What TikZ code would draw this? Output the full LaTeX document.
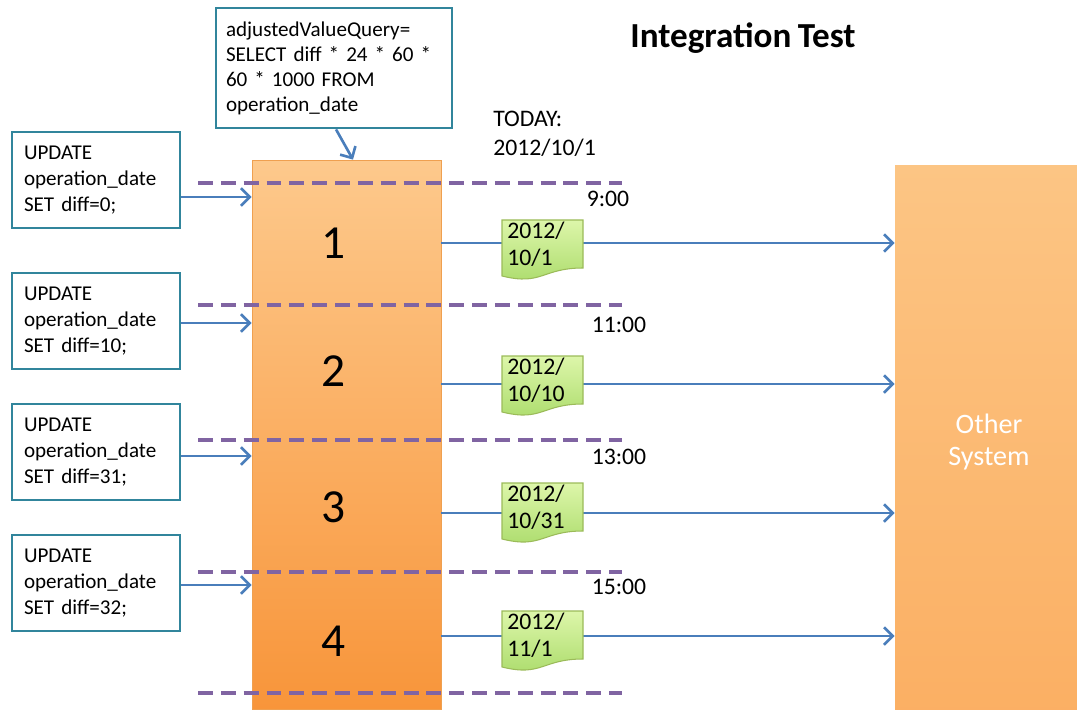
\documentclass[tikz,border=0pt]{standalone}
\usepackage{fontspec}
\setmainfont{Carlito}[WordSpace={0.8,0.5,0.3}]
\usetikzlibrary{arrows.meta, calc}

\definecolor{boxteal}{HTML}{31859C}
\definecolor{arrowblue}{HTML}{4A7EBB}
\definecolor{dashpurple}{HTML}{8064A2}
\definecolor{noteedge}{HTML}{9BBB59}
\definecolor{notetop}{HTML}{DDF6AA}
\definecolor{notebot}{HTML}{AADB6A}
\definecolor{coltop}{HTML}{FDC98C}
\definecolor{colbot}{HTML}{F8953A}
\definecolor{coledge}{HTML}{EFA050}
\definecolor{othtop}{HTML}{FCC584}
\definecolor{othbot}{HTML}{FBAF63}

\begin{document}
\begin{tikzpicture}[
    x=0.02cm, y=-0.02cm,
    sqlbox/.style={rectangle, draw=boxteal, line width=1.6pt, fill=white, text width=2.88cm, inner xsep=0.24cm, inner ysep=0pt, minimum height=1.92cm, align=left, font=\fontsize{12}{14.7}\selectfont},
    arrow/.style={-{Straight Barb[length=5pt,width=10pt]}, draw=arrowblue, line width=1.5pt},
    sepline/.style={draw=dashpurple, line width=2.1pt, dash pattern=on 8.5pt off 4.5pt},
    notebox/.style={draw=noteedge, line width=0.6pt, top color=notetop, bottom color=notebot},
    notetext/.style={anchor=west, align=left, inner sep=0pt, font=\fontsize{13.5}{15.3}\selectfont},
    timelbl/.style={inner sep=0pt, font=\fontsize{13.5}{16}\selectfont},
    numlbl/.style={inner sep=0pt, font=\fontsize{27}{30}\selectfont}
  ]
    \useasboundingbox (0,0) rectangle (1077,709);

    % Main column and other system
    \node[rectangle, draw=coledge, line width=0.5pt, top color=coltop, bottom color=colbot, minimum width=3.78cm, minimum height=10.98cm, inner sep=0pt] (col) at (346.5,434.5) {};
    \node[rectangle, top color=othtop, bottom color=othbot, minimum width=3.76cm, minimum height=11.08cm, text=white, align=center, font=\fontsize{16}{18.7}\selectfont] (other) at (989,442) {Other\\System};

    % Numbers
    \node[numlbl] (n1) at (334,243) {1};
    \node[numlbl] (n2) at (334,371) {2};
    \node[numlbl] (n3) at (334,507) {3};
    \node[numlbl] (n4) at (334,641) {4};

    % Outgoing arrows
    \foreach \i/\y in {1/243, 2/384, 3/513, 4/636} {
      \coordinate (r\i) at (0,\y);
      \draw[arrow] (col.east |- r\i) -- (other.west |- r\i);
    }

    % Date notes
    \foreach \i/\top/\d in {1/220/{2012/\\10/1}, 2/356/{2012/\\10/10}, 3/483/{2012/\\10/31}, 4/611/{2012/\\11/1}} {
      \begin{scope}[shift={(502,\top)}]
        \path[notebox] (0,0) -- (81,0) -- (81,48) .. controls (40,48) and (40,66) .. (0,56) -- cycle;
        \node[notetext] (d\i) at (5,24) {\d};
      \end{scope}
    }

    % Time lines
    \foreach \y in {183, 305, 440, 572, 693}
      \draw[sepline] (198,\y) -- (622,\y);

    % Times
    \node[timelbl] (t1) at (608,199) {9:00};
    \node[timelbl] (t2) at (619,325) {11:00};
    \node[timelbl] (t3) at (619,457) {13:00};
    \node[timelbl] (t4) at (619,587) {15:00};
    \node[anchor=west, inner sep=0pt, align=left, font=\fontsize{13.5}{16.4}\selectfont] (today) at (493,134) {TODAY:\\2012/10/1};

    % Update statements
    \node[sqlbox] (upd1) at (96,180) {UPDATE\\operation\_date\\SET diff=0;};
    \node[sqlbox] (upd2) at (96,321) {UPDATE\\operation\_date\\SET diff=10;};
    \node[sqlbox] (upd3) at (96,452) {UPDATE\\operation\_date\\SET diff=31;};
    \node[sqlbox] (upd4) at (96,583) {UPDATE\\operation\_date\\SET diff=32;};

    \foreach \i/\y in {1/197, 2/323, 3/456, 4/585} {
      \coordinate (l\i) at (0,\y);
      \draw[arrow] (upd\i.east |- l\i) -- (col.west |- l\i);
    }

    % Query
    \node[sqlbox, text width=4.32cm, inner xsep=0.2cm, minimum height=2.4cm, font=\fontsize{12}{14.2}\selectfont] (query) at (334,68) {adjustedValueQuery=\\SELECT diff * 24 * 60 *\\60 * 1000 FROM\\operation\_date};
    \draw[arrow] ([xshift=0.04cm]query.south) -- ([xshift=0.13cm]col.north);

    % Title
    \node[font=\fontsize{20}{24}\selectfont\bfseries] (title) at (743,38) {Integration Test};
  \end{tikzpicture}
\end{document}
